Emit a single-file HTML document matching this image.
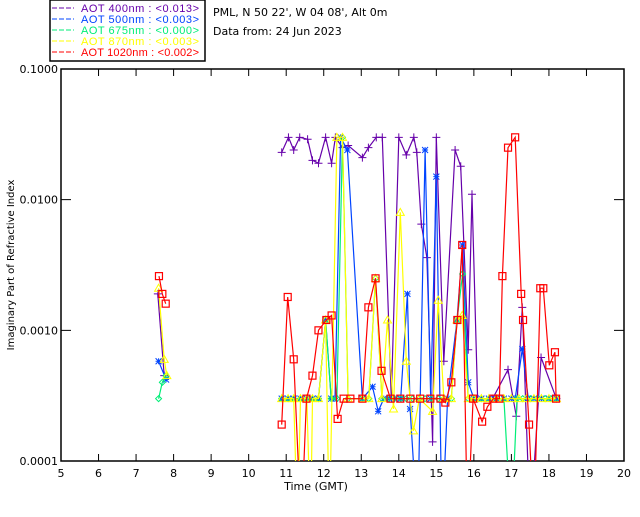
<!DOCTYPE html>
<html><head><meta charset="utf-8"><style>
body{margin:0;background:#fff;width:640px;height:512px;overflow:hidden}
svg text{font-family:"DejaVu Sans","Liberation Sans",sans-serif;font-size:11px}
svg text.lg{font-family:"Liberation Sans",sans-serif;font-size:11px}
</style></head><body>
<svg id="c" width="640" height="512" viewBox="0 0 640 512">
<rect x="50" y="0" width="155" height="61" fill="#fff" stroke="#000" stroke-width="1.5"/>
<g>
<g><line x1="52" y1="8" x2="74" y2="8" stroke="#6600aa" stroke-dasharray="5,2"/><text class="lg" x="81" y="12" fill="#6600aa" textLength="118">AOT  400nm : &lt;0.013&gt;</text></g>
<g><line x1="52" y1="19" x2="74" y2="19" stroke="#0044ff" stroke-dasharray="5,2"/><text class="lg" x="81" y="23" fill="#0044ff" textLength="118">AOT  500nm : &lt;0.003&gt;</text></g>
<g><line x1="52" y1="30" x2="74" y2="30" stroke="#00ee77" stroke-dasharray="5,2"/><text class="lg" x="81" y="34" fill="#00ee77" textLength="118">AOT  675nm : &lt;0.000&gt;</text></g>
<g><line x1="52" y1="41" x2="74" y2="41" stroke="#ffff00" stroke-dasharray="5,2"/><text class="lg" x="81" y="45" fill="#ffff00" textLength="118">AOT  870nm : &lt;0.003&gt;</text></g>
<g><line x1="52" y1="52" x2="74" y2="52" stroke="#ff0000" stroke-dasharray="5,2"/><text class="lg" x="81" y="56" fill="#ff0000" textLength="118">AOT 1020nm : &lt;0.002&gt;</text></g>
</g>
<text x="213" y="16">PML, N 50 22', W 04 08', Alt 0m</text>
<text x="213" y="35">Data from: 24 Jun 2023</text>
<text x="316" y="490" text-anchor="middle">Time (GMT)</text>
<text transform="translate(14,265) rotate(-90)" text-anchor="middle" font-size="10" style="font-size:10px">Imaginary Part of Refractive Index</text>
<g id="axes"></g>
<g id="plot"></g>
</svg>
<script>
const xTicks=[5,6,7,8,9,10,11,12,13,14,15,16,17,18,19,20];
const yTicks=[0.1,0.01,0.001,0.0001];
const yTickLabels=["0.1000","0.0100","0.0010","0.0001"];
const t400=[7.58,7.75,10.88,11.06,11.2,11.36,11.57,11.7,11.86,12.05,12.21,12.31,12.5,12.65,13.03,13.19,13.4,13.56,13.8,14.0,14.2,14.4,14.48,14.6,14.75,14.9,15.0,15.2,15.5,15.65,15.85,15.95,16.1,16.5,16.91,17.13,17.29,17.5,17.79,18.2];
const v400=[0.0019,0.00045,0.023,0.03,0.024,0.03,0.029,0.02,0.019,0.03,0.019,0.03,0.025,0.026,0.021,0.025,0.03,0.03,0.0003,0.03,0.022,0.03,0.023,0.0065,0.0036,0.00014,0.03,0.00058,0.024,0.018,0.00071,0.011,0.0003,0.0003,0.0005,0.00022,0.0015,0.00003,0.00062,0.0003];
const t500=[7.6,7.8,10.88,11.05,11.2,11.38,11.55,11.7,11.86,12.05,12.2,12.3,12.45,12.63,13.03,13.3,13.45,13.6,13.75,13.9,14.05,14.23,14.3,14.5,14.7,14.85,15.0,15.15,15.3,15.55,15.7,15.85,16.0,16.2,16.4,16.6,16.8,17.0,17.1,17.29,17.45,17.6,17.8,18.0,18.2];
const v500=[0.00058,0.00042,0.0003,0.0003,0.0003,0.0003,0.0003,0.0003,0.0003,0.0012,0.0003,0.0003,0.03,0.024,0.0003,0.00037,0.00024,0.0003,0.0003,0.0003,0.0003,0.0019,0.00025,0.00003,0.024,0.0003,0.015,0.00003,0.0003,0.0012,0.0045,0.0004,0.0003,0.0003,0.0003,0.0003,0.0003,0.0003,0.0003,0.00072,0.0003,0.0003,0.0003,0.0003,0.0003];
const t675=[7.6,7.7,7.8,10.88,11.05,11.2,11.38,11.55,11.7,11.86,12.05,12.2,12.35,12.5,12.65,13.03,13.2,13.38,13.55,13.72,13.88,14.05,14.2,14.37,14.55,14.7,14.88,15.05,15.2,15.4,15.55,15.7,15.85,16.0,16.2,16.4,16.6,16.8,17.0,17.15,17.3,17.5,17.7,17.9,18.05,18.2];
const v675=[0.0003,0.0004,0.00045,0.0003,0.0003,0.0003,0.0003,0.0003,0.0003,0.0003,0.0012,0.0003,0.0003,0.03,0.0003,0.0003,0.0003,0.0025,0.0003,0.0003,0.0003,0.0003,0.0003,0.0003,0.0003,0.0003,0.0003,0.0003,0.0003,0.0003,0.0012,0.0027,0.0003,0.0003,0.0003,0.0003,0.0003,0.0003,0.00003,0.0003,0.0003,0.0003,0.0003,0.0003,0.0003,0.0003];
const t870=[7.6,7.75,7.82,10.88,11.05,11.2,11.3,11.38,11.55,11.65,11.7,11.86,12.05,12.15,12.35,12.5,12.65,13.03,13.2,13.38,13.55,13.7,13.86,14.04,14.2,14.39,14.55,14.9,15.05,15.2,15.4,15.55,15.69,15.85,16.0,16.2,16.4,16.6,16.8,17.0,17.2,17.4,17.6,17.8,18.0,18.2];
const v870=[0.0021,0.0006,0.00045,0.0003,0.0003,0.0003,0.00003,0.0003,0.0003,0.00003,0.0003,0.0003,0.0012,0.00003,0.03,0.03,0.0003,0.0003,0.0003,0.0025,0.0003,0.0012,0.00025,0.008,0.00058,0.00017,0.0003,0.00024,0.0017,0.0003,0.0003,0.0012,0.0013,0.0003,0.0003,0.0003,0.0003,0.0003,0.0003,0.0003,0.0003,0.0003,0.0003,0.0003,0.0003,0.0003];
const t1020=[7.61,7.7,7.79,10.88,11.04,11.2,11.4,11.54,11.7,11.86,12.07,12.21,12.37,12.53,12.71,13.03,13.19,13.38,13.54,13.78,14.04,14.31,14.57,14.84,15.11,15.24,15.4,15.56,15.69,15.83,15.98,16.22,16.36,16.52,16.68,16.76,16.91,17.1,17.26,17.31,17.47,17.6,17.77,17.85,18.01,18.16,18.19];
const v1020=[0.0026,0.0019,0.0016,0.00019,0.0018,0.0006,0.00003,0.0003,0.00045,0.001,0.0012,0.0013,0.00021,0.0003,0.0003,0.0003,0.0015,0.0025,0.00049,0.0003,0.0003,0.0003,0.0003,0.0003,0.0003,0.00028,0.0004,0.0012,0.0045,0.00003,0.0003,0.0002,0.00026,0.0003,0.0003,0.0026,0.025,0.03,0.0019,0.0012,0.00019,0.00003,0.0021,0.0021,0.00054,0.00068,0.0003];

const X0=61,X1=624,Y0=69,Y1=461;
function xs(t){return X0+(t-5)/15*(X1-X0);}
function ys(v){return Y0+(-1-Math.log10(v))/3*(Y1-Y0);}
const NS="http://www.w3.org/2000/svg";
function mk(tag,attrs,parent){const e=document.createElementNS(NS,tag);for(const k in attrs)e.setAttribute(k,attrs[k]);parent.appendChild(e);return e;}
const axes=document.getElementById('axes'),plot=document.getElementById('plot');
const frame=mk('rect',{x:X0,y:Y0,width:X1-X0,height:Y1-Y0,fill:'none',stroke:'#000','stroke-width':1.5},axes);


xTicks.forEach(t=>{const x=xs(t);
 const a=mk('path',{d:`M${x},${Y1}V${Y1-7}M${x},${Y0}V${Y0+7}`,stroke:'#000'},axes);
 
 
 const l=mk('text',{x:x,y:Y1+16,'text-anchor':'middle'},axes);l.textContent=t;
 
 });
yTicks.forEach((v,i)=>{const y=ys(v);
 const a=mk('path',{d:`M${X0},${y}H${X0+10}M${X1},${y}H${X1-10}`,stroke:'#000'},axes);
 
 
 const l=mk('text',{x:X0-3,y:y+4,'text-anchor':'end'},axes);l.textContent=yTickLabels[i];
 
 });
const clip=mk('clipPath',{id:'cp'},plot);mk('rect',{x:X0,y:Y0,width:X1-X0,height:Y1-Y0},clip);
function series(ts,vs,color,marker,name){
 const g=mk('g',{'clip-path':'url(#cp)'},plot);
 
 
 let d='';ts.forEach((t,i)=>{const x=xs(t),y=ys(vs[i]);d+=(i==0||(ts[i]-ts[i-1])>1.5?'M':'L')+x.toFixed(1)+','+y.toFixed(1);});
 const p=mk('path',{d:d,fill:'none',stroke:color,'stroke-width':1.2},g);
 
 
 ts.forEach((t,i)=>{if(vs[i]<0.0001)return;const x=xs(t),y=ys(vs[i]);let m;
  if(marker=='plus')m=mk('path',{d:`M${x-4},${y}H${x+4}M${x},${y-4}V${y+4}`,stroke:color,fill:'none'},g);
  else if(marker=='star')m=mk('path',{d:`M${x-3},${y}H${x+3}M${x},${y-3}V${y+3}M${x-3},${y-3}L${x+3},${y+3}M${x-3},${y+3}L${x+3},${y-3}`,stroke:color,fill:'none'},g);
  else if(marker=='diamond')m=mk('path',{d:`M${x},${y-3}L${x+3},${y}L${x},${y+3}L${x-3},${y}Z`,stroke:color,fill:'none'},g);
  else if(marker=='tri')m=mk('path',{d:`M${x},${y-4}L${x+4},${y+3}L${x-4},${y+3}Z`,stroke:color,fill:'none'},g);
  else m=mk('rect',{x:x-3.5,y:y-3.5,width:7,height:7,stroke:color,fill:'none','stroke-width':1.2},g);
  
  });
}
series(t400,v400,'#6600aa','plus','series-400nm');
series(t500,v500,'#0044ff','star','series-500nm');
series(t675,v675,'#00ee77','diamond','series-675nm');
series(t870,v870,'#ffff00','tri','series-870nm');
series(t1020,v1020,'#ff0000','square','series-1020nm');
</script>
</body></html>
